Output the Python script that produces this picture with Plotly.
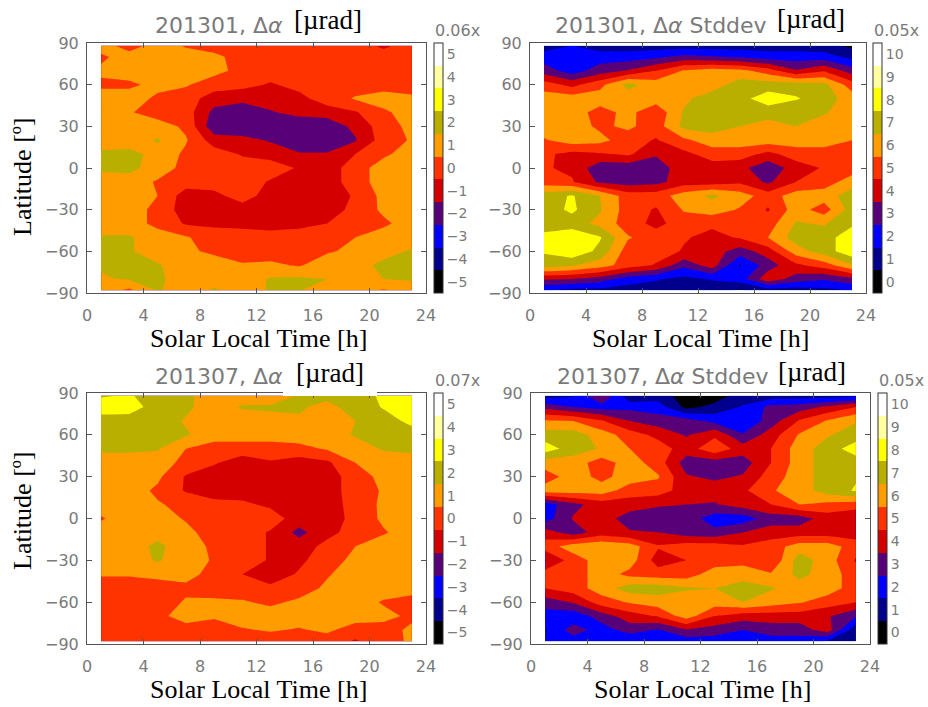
import plotly.graph_objects as go

# grid: solar local time (h) and latitude (deg), rows listed north -> south
slt = [1, 3, 5, 7, 9, 11, 13, 15, 17, 19, 21, 23]
lat = [88, 80, 70, 60, 50, 40, 30, 20, 10, 0, -10, -20, -30, -40, -50, -60, -70, -80, -88]

# values in colorbar units (x0.06 / x0.05 / x0.07 / x0.05 urad)
dalpha_201301 = [
    [1, 0, 1, 0.4, 0, 0, 0, 0, 0, 0, -0.7, 0],
    [0.3, 1, 1, 1, 0.8, 0, 0, 0, 0, 0, 0, 0],
    [0.7, 1, 1, 1, 0.8, 0.2, 0, 0, 0, 0, 0, 0],
    [0.3, 0.3, 0.8, 0.6, 0, -0.2, -0.6, -0.2, 0, 0, 0, 0],
    [1, 1, 0.3, 0, -1, -1.2, -1, -0.8, 0, 0.6, 1, 0.7],
    [1, 0.6, 0, 0, -1.8, -2.2, -1.6, -1.2, -1, -0.6, 0.3, 1],
    [1, 1, 1, 0.3, -2.2, -2.2, -2.2, -2.2, -2.2, -1.2, 0, 0.8],
    [1, 1, 1.6, 0.6, -1, -1.2, -1.6, -2.2, -2.2, -1.6, 0, 0.6],
    [1.7, 1.8, 1.2, 0.3, 0, -0.6, -0.9, -1.4, -1.4, -0.5, 0.3, 1],
    [1.7, 1.8, 1, 0.2, 0, 0, 0, -0.6, -1, 0, 1, 1],
    [1, 1, 0.4, 0, 0, 0, -0.6, -1, -1, 0, 1, 1],
    [1, 1, 0.5, -1, -0.8, 0, -1, -1, -1, -0.4, 0.8, 1],
    [1, 1, 0.2, -1, -1, -1, -1, -1, -1, -0.2, 0.7, 1],
    [1, 1, 0.2, -0.6, -0.7, -0.8, -1, -0.8, -0.5, 0.3, 0.3, 1],
    [1.6, 1.6, 1, 0.6, 0, 0, 0, 0, 0, 0.5, 1, 1],
    [1.7, 1.6, 1, 0.7, 0.3, 0, 0, 0.2, 0.4, 0.7, 1.2, 1.6],
    [1.6, 1.7, 1.6, 1, 1, 0.6, 0.7, 0.4, 1, 1.2, 1.7, 1.8],
    [1.4, 1.6, 1.7, 1, 1.2, 1, 1.6, 1.7, 1.5, 1, 1.5, 1.6],
    [1, 0.3, 1.6, 1, 1.6, 1, 1.6, 1.6, 0.8, 1, 0.4, 1],
]

stddev_201301 = [
    [1, 1.5, 1, 1, 1, 1, 1, 1, 1, 1, 0.8, 0.3],
    [2, 2, 2, 2, 2.3, 2.8, 2.6, 2.4, 2, 2, 2, 1.2],
    [3, 2, 3, 3.6, 4.5, 5.6, 6, 5.8, 5, 3.6, 4.4, 3],
    [5, 4.2, 5.2, 6.8, 6, 6, 6, 7, 7, 7, 6.8, 5],
    [6, 6, 6, 6, 6, 6.3, 7, 7.2, 8, 7.6, 7, 6],
    [6, 6, 5.1, 5.8, 4.8, 6.6, 7, 7, 7, 6.6, 6.6, 6],
    [6, 6, 5.3, 5.7, 5, 6.8, 7, 6.5, 6, 6.5, 6, 6],
    [5.4, 6, 5.8, 5, 4.4, 5.3, 6, 6, 6, 6, 6, 5.5],
    [4.7, 4.2, 4.4, 4.7, 3.6, 4.2, 5, 5, 4.2, 5, 5, 4.8],
    [4.6, 4.3, 2.8, 2.8, 3, 4, 4, 3.8, 2.8, 4, 4.6, 5],
    [5, 4.6, 3.3, 3, 3.2, 4, 4, 4.3, 3.3, 4.5, 5, 6],
    [7, 7.6, 6.5, 5, 5, 6, 6.7, 6, 5, 6, 6, 7],
    [7, 7.7, 6.6, 5, 4.4, 5.6, 6, 5.4, 4.4, 6, 5, 7],
    [7, 7, 6.2, 5, 4.2, 5, 4.7, 5, 5, 6.6, 6.4, 7.3],
    [7.8, 8.3, 7.6, 5.6, 5, 4.6, 4.2, 4.6, 5.5, 7, 7, 8.2],
    [7.6, 8.3, 7.2, 5, 5, 4.4, 4, 3, 4, 6, 7, 8.2],
    [7, 6.6, 6, 5, 4.4, 2.8, 4, 1.4, 3, 4.3, 5, 6.4],
    [3.6, 3.5, 3, 2, 1.6, 1.2, 1.6, 2, 4.2, 3, 2.6, 3.2],
    [1.6, 1.2, 1.2, 1, 1, 1, 0.8, 0.4, 1, 1, 1.2, 1.6],
]

dalpha_201307 = [
    [2.4, 2.6, 2, 1.7, 1, 1, 1, 1.6, 1.7, 2, 2.7, 3],
    [3.1, 3, 2, 1.7, 1, 1.6, 1.6, 1.6, 1.3, 1.8, 2.6, 3],
    [2, 2, 2, 1.4, 1, 1, 1.3, 1.4, 1, 1.5, 2, 2.8],
    [2, 2, 2, 1.6, 1, 1, 1, 1, 1, 1.6, 2, 2],
    [1.7, 1.7, 1.6, 0.5, 0, 0, 0, 0.2, 0.6, 1, 1.6, 1.6],
    [1, 1, 1, 0.2, -0.4, -1, -0.6, -1, -0.7, 0.5, 1, 1.3],
    [1, 1, 0.7, -0.6, -1, -1, -1, -1, -1, 0, 0.8, 1],
    [1, 1, 0.3, -0.6, -1, -1, -1, -1, -1, 0, 0.6, 1],
    [1, 1, 0.6, 0.2, -0.2, -0.3, -0.7, -1, -1, -0.1, 0.7, 1],
    [0.4, 1, 1, 0.4, 0, 0, 0, -1, -1, -0.2, 0.7, 1],
    [1, 1, 1.2, 0.8, 0, 0, -0.6, -1.8, -0.8, -0.1, 0.4, 1],
    [1.5, 1.1, 1.7, 1, 0.3, 0, -0.6, -1, -0.2, 0.5, 1, 1],
    [1, 1, 1.6, 1, 0.4, 0, -0.6, -0.7, 0, 0.8, 1, 1],
    [0.6, 0.6, 0.8, 0.8, 0.2, -0.5, -1, -0.4, 0.4, 1, 1, 0.6],
    [0, 0, 0, 0.3, 0, 0, -0.3, 0, 0.7, 1, 1, 1],
    [0, 0, 0, 0.6, 0.7, 0.6, 0.3, 0.7, 0.8, 1, 0.4, 0],
    [0, 0, 0.2, 1, 0.6, 1, 1, 1, 0.8, 1, 0.8, 0.3],
    [0, 0, 0, 0, 0.1, 0.4, 0.6, 0.4, 0.7, 0, 0.1, 0.7],
    [0, 0, 0, 0, 0, 0, 0, 0.3, 0, -0.6, 0, 0.7],
]

stddev_201307 = [
    [1, 1.4, 3.6, 0.6, 1, 0, 0, 1, 1, 1, 1, 1.2],
    [3.2, 2.5, 2.1, 2.2, 2, 0.2, 0.8, 1.6, 2.8, 3, 3.7, 4.5],
    [5.6, 5.5, 4.6, 3.5, 3, 3, 2.2, 1.6, 3, 4.6, 5.6, 6.4],
    [7, 7, 6, 5, 4.2, 3.4, 4.3, 2.6, 4, 5.6, 6.4, 7],
    [8, 7, 6.4, 5.5, 5, 4, 5.2, 4, 4.5, 6, 7, 8],
    [6, 6, 5, 6, 5, 3, 3, 3, 4.5, 6, 7, 7],
    [5, 6, 5.2, 6, 5.6, 3.6, 3.3, 3.6, 5, 6, 7, 7.4],
    [6, 6, 6, 5, 5, 4, 4, 4.3, 5.4, 6, 7, 7.6],
    [2, 3.2, 4, 4, 3.6, 3.5, 3.4, 4, 4.5, 5.5, 5.2, 5],
    [2, 3.6, 4, 3, 3, 3, 2, 2, 3, 3, 4, 3.6],
    [4, 3, 4, 3.6, 3.5, 3, 2.8, 3.5, 4, 4, 4, 4],
    [5, 6, 6.3, 6, 4.6, 5, 5, 4.6, 5, 6, 6, 5],
    [3.4, 5, 6, 6, 4, 4.5, 5, 5.2, 4.6, 7, 6, 4.4],
    [5, 5, 6, 5.2, 5, 5, 6, 6, 5.6, 6.8, 6, 5],
    [4.5, 5, 6, 7, 7, 6.6, 6.5, 7, 6.6, 6, 6, 5],
    [3, 3.6, 5, 5.6, 6, 6, 6, 6.5, 6, 5.6, 5, 4.5],
    [2, 1.8, 3, 4, 4.6, 6, 4.5, 4, 4, 4, 3.6, 2.6],
    [1.4, 3, 2, 3, 2.4, 3.4, 3, 2.5, 3, 3, 4, 0.7],
    [1.5, 2, 2, 1.5, 1.5, 2, 2, 2.5, 2, 2, 1.4, 0.5],
]

dalpha_levels = [-5, -4, -3, -2, -1, 0, 1, 2, 3, 4, 5]
stddev_levels = [0, 1, 2, 3, 4, 5, 6, 7, 8, 9, 10]
band_colors = ["#000000", "#00008c", "#0000ff", "#580078", "#d40000", "#ff3300",
               "#ff9c00", "#b8af00", "#ffff00", "#ffffa0", "#ffffff"]

W, H = 928, 707
GRAY = "#7a7a7a"
SANS = "DejaVu Sans"
SERIF = "Liberation Serif"


def px(x):
    return x / W


def py(y):
    return 1 - y / H


def discrete_scale(colors):
    n = len(colors)
    cs = []
    for i, c in enumerate(colors):
        cs.append([i / n, c])
        cs.append([(i + 1) / n, c])
    return cs


panels = [
    # data, levels, multiplier, frame box (x0, x1, y0, y1) in px, colorbar x in px
    (dalpha_201301, dalpha_levels, "0.06x", (87, 426, 43, 293), 434),
    (stddev_201301, stddev_levels, "0.05x", (530, 866, 43, 293), 873),
    (dalpha_201307, dalpha_levels, "0.07x", (87, 426, 393, 644), 434),
    (stddev_201307, stddev_levels, "0.05x", (531, 870, 393, 644), 878),
]

fig = go.Figure()
annotations = []
lat_up = lat[::-1]

for i, (z, levels, mult, box, cbx) in enumerate(panels):
    n = i + 1
    x0, x1, y0, y1 = box
    lo, hi = levels[0], levels[-1]
    fig.add_trace(go.Contour(
        x=slt, y=lat_up, z=z[::-1],
        xaxis=f"x{n}", yaxis=f"y{n}",
        zmin=lo - 0.5, zmax=hi + 0.5,
        autocontour=False,
        contours=dict(start=lo + 0.5, end=hi - 0.5, size=1, coloring="fill", showlines=False),
        line=dict(width=0, smoothing=0),
        colorscale=discrete_scale(band_colors),
        hoverinfo="skip",
        colorbar=dict(
            x=px(cbx), xanchor="left", xpad=0, ypad=0,
            y=py((y0 + y1) / 2), yanchor="middle",
            len=(y1 - y0) / H, lenmode="fraction",
            thickness=9, thicknessmode="pixels",
            outlinewidth=1, outlinecolor="#333",
            tickvals=levels, ticks="",
            tickfont=dict(family=SANS, size=14, color=GRAY),
        ),
    ))
    ax = dict(domain=[px(x0), px(x1)], range=[0, 24], tickvals=[0, 4, 8, 12, 16, 20, 24],
              showline=True, linecolor="#555", linewidth=1, mirror="ticks",
              ticks="inside", ticklen=5, tickcolor="#555", showgrid=False, zeroline=False,
              automargin=False, ticklabelstandoff=8,
              tickfont=dict(family=SANS, size=16, color=GRAY), anchor=f"y{n}")
    ay = dict(domain=[py(y1), py(y0)], range=[-90, 90], tickvals=[-90, -60, -30, 0, 30, 60, 90],
              showline=True, linecolor="#555", linewidth=1, mirror="ticks",
              ticks="inside", ticklen=5, tickcolor="#555", showgrid=False, zeroline=False,
              automargin=False, ticklabelstandoff=4,
              tickfont=dict(family=SANS, size=16, color=GRAY), anchor=f"x{n}")
    fig.update_layout(**{f"xaxis{n}": ax, f"yaxis{n}": ay})

    cx = (x0 + x1) / 2
    annotations.append(dict(text="Solar Local Time [h]", x=px(cx + 2), y=py(y1 + 45),
                            font=dict(family=SERIF, size=26, color="black")))
    annotations.append(dict(text=mult, x=px(cbx - 1), y=py(y0 - 13), xanchor="left",
                            font=dict(family=SANS, size=16, color=GRAY)))

annotations += [
    dict(text="201301, Δ<i>α</i>", x=px(153), y=py(25), xanchor="left",
         font=dict(family=SANS, size=22, color=GRAY)),
    dict(text="[µrad]", x=px(328), y=py(20), font=dict(family=SERIF, size=27, color="black")),
    dict(text="201301, Δ<i>α</i> Stddev", x=px(553), y=py(25), xanchor="left",
         font=dict(family=SANS, size=22, color=GRAY)),
    dict(text="[µrad]", x=px(811), y=py(19), font=dict(family=SERIF, size=27, color="black")),
    dict(text="201307, Δ<i>α</i>", x=px(153), y=py(376), xanchor="left",
         font=dict(family=SANS, size=22, color=GRAY)),
    dict(text="[µrad]", x=px(330), y=py(373), font=dict(family=SERIF, size=27, color="black")),
    dict(text="201307, Δ<i>α</i> Stddev", x=px(555), y=py(376), xanchor="left",
         font=dict(family=SANS, size=22, color=GRAY)),
    dict(text="[µrad]", x=px(812), y=py(372), font=dict(family=SERIF, size=27, color="black")),
    dict(text="Latitude [º]", x=px(22), y=py(177), textangle=-90,
         font=dict(family=SERIF, size=26, color="black")),
    dict(text="Latitude [º]", x=px(22), y=py(511), textangle=-90,
         font=dict(family=SERIF, size=26, color="black")),
]
for a in annotations:
    a.update(xref="paper", yref="paper", showarrow=False)
    a.setdefault("xanchor", "center")
    a.setdefault("yanchor", "middle")

fig.update_layout(
    width=W, height=H,
    margin=dict(l=0, r=0, t=0, b=0, autoexpand=False),
    paper_bgcolor="white", plot_bgcolor="white",
    showlegend=False,
    annotations=annotations,
    # white patch behind the unit label that hides part of the lower-left frame
    shapes=[dict(type="rect", xref="paper", yref="paper", x0=px(283), x1=px(377),
                 y0=py(396), y1=py(388), fillcolor="white", line=dict(width=0), layer="above")],
)

# the page body has a default 8px margin; drop it so the figure fills the window
fig.write_html("out.html", config={"displayModeBar": False},
               post_script="document.body.style.margin='0';")
